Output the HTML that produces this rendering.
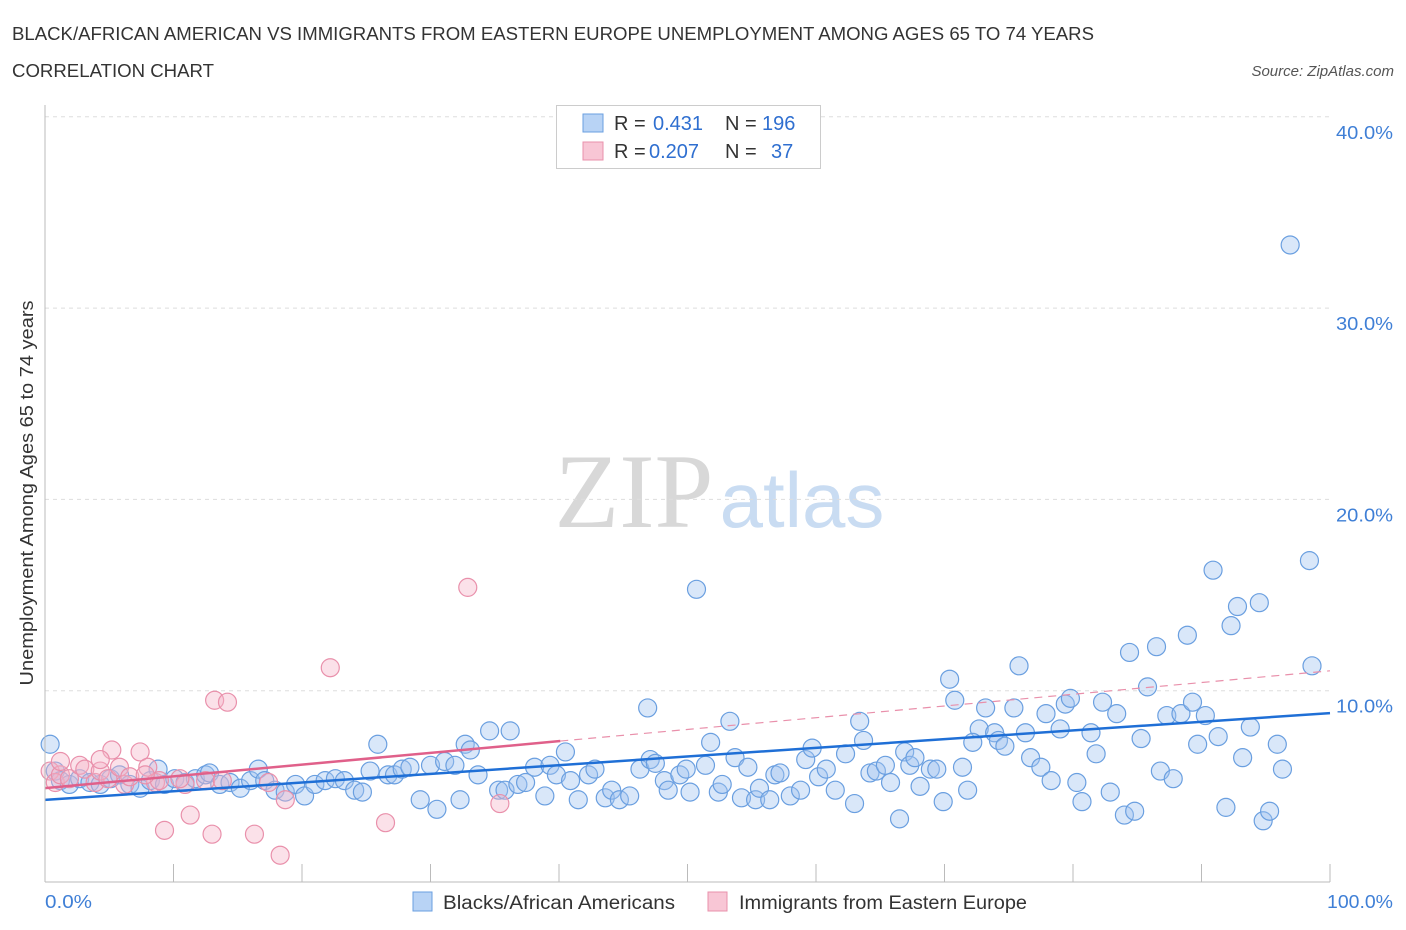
<!DOCTYPE html>
<html><head><meta charset="utf-8"><style>
body{margin:0;background:#fff;font-family:"Liberation Sans",sans-serif;}
#wrap{position:relative;width:1406px;height:930px;overflow:hidden}
</style></head><body>
<div id="wrap">
<svg id="chart" width="1406" height="930">
<text x="12" y="40" font-size="18" fill="#333" textLength="1082" lengthAdjust="spacingAndGlyphs">BLACK/AFRICAN AMERICAN VS IMMIGRANTS FROM EASTERN EUROPE UNEMPLOYMENT AMONG AGES 65 TO 74 YEARS</text>
<text x="12" y="77" font-size="18" fill="#333" textLength="202" lengthAdjust="spacingAndGlyphs">CORRELATION CHART</text>
<text x="1394" y="76" font-size="15" fill="#555" font-style="italic" text-anchor="end">Source: ZipAtlas.com</text>
<text x="634" y="527" font-size="106" fill="#d8d8d8" font-family="Liberation Serif, serif" text-anchor="middle">ZIP</text>
<text x="802" y="527" font-size="78" fill="#c9dcf2" text-anchor="middle">atlas</text>
<g id="grid"></g><g id="pts"></g><g id="lines"></g>
<line x1="45" y1="105" x2="45" y2="882" stroke="#bbb"/>
<line x1="45" y1="882" x2="1330" y2="882" stroke="#bbb"/>
<text x="45" y="908" font-size="18" fill="#3f7fd6" textLength="47" lengthAdjust="spacingAndGlyphs">0.0%</text>
<text x="1327" y="908" font-size="18" fill="#3f7fd6" textLength="66" lengthAdjust="spacingAndGlyphs">100.0%</text>
<text transform="translate(33,493) rotate(-90)" font-size="18" fill="#333" text-anchor="middle" textLength="385" lengthAdjust="spacingAndGlyphs">Unemployment Among Ages 65 to 74 years</text>
<g>
<rect x="556.5" y="105.5" width="264" height="63" fill="#fff" stroke="#ccc"/>
<rect x="583" y="114" width="20" height="18" fill="#b8d3f5" stroke="#6a9fe0"/>
<rect x="583" y="142" width="20" height="18" fill="#f8c6d5" stroke="#e990ab"/>
<text y="130" font-size="20" fill="#333"><tspan x="614">R =</tspan><tspan x="653" fill="#2f6fd0">0.431</tspan><tspan x="725">N =</tspan><tspan x="762" fill="#2f6fd0">196</tspan></text>
<text y="158" font-size="20" fill="#333"><tspan x="614">R =</tspan><tspan x="649" fill="#2f6fd0">0.207</tspan><tspan x="725">N =</tspan><tspan x="771" fill="#2f6fd0">37</tspan></text>
</g>
<g>
<rect x="413" y="892" width="19" height="19" fill="#b8d3f5" stroke="#6a9fe0"/>
<text x="443" y="909" font-size="19" fill="#333" textLength="232" lengthAdjust="spacingAndGlyphs">Blacks/African Americans</text>
<rect x="708" y="892" width="19" height="19" fill="#f8c6d5" stroke="#e990ab"/>
<text x="739" y="909" font-size="19" fill="#333" textLength="288" lengthAdjust="spacingAndGlyphs">Immigrants from Eastern Europe</text>
</g>
</svg>
</div>
<script>
const yTicks=[10,20,30,40];
const yTickLabels=["10.0%","20.0%","30.0%","40.0%"];
const xTicks=[10,20,30,40,50,60,70,80,90,100];
const blueX=[0.4,0.8,1.2,1.9,2.7,3.5,4.3,5.1,5.8,6.6,7.4,8.2,8.8,9.3,10.1,10.9,11.7,12.5,12.8,13.6,14.4,15.2,16.0,16.6,17.1,17.9,18.7,19.5,20.2,21.0,21.8,22.6,23.3,24.1,24.7,25.3,25.9,26.7,27.2,27.8,28.4,29.2,30.0,30.5,31.1,31.9,32.3,32.7,33.1,33.7,34.6,35.3,35.8,36.2,36.8,37.4,38.1,38.9,39.3,39.8,40.5,40.9,41.5,42.3,42.8,43.6,44.1,44.7,45.5,46.3,46.9,47.1,47.5,48.2,48.5,49.4,49.9,50.2,51.4,51.8,52.4,52.7,53.3,53.7,54.2,54.7,55.3,55.6,56.4,56.8,57.2,58.0,58.8,59.2,59.7,60.2,60.8,61.5,62.3,63.0,63.4,63.7,64.2,64.7,65.4,65.8,66.5,66.9,67.3,67.7,68.1,68.9,50.7,
69.4,69.9,71.4,71.8,70.4,70.8,72.7,72.2,73.2,73.9,74.2,74.7,75.4,75.8,76.3,76.7,77.5,77.9,78.3,79.0,79.4,79.8,80.3,80.7,81.4,81.8,82.3,82.9,83.4,84.0,84.8,84.4,85.3,85.8,86.5,86.8,87.3,87.8,88.4,88.9,89.3,89.7,90.3,90.9,91.3,91.9,92.3,92.8,93.2,93.8,94.5,94.8,95.3,95.9,96.3,96.9,98.4,98.6];
const blueY=[7.2,5.8,5.3,5.1,5.4,5.2,5.1,5.4,5.6,5.1,4.9,5.3,5.9,5.1,5.4,5.2,5.4,5.6,5.7,5.1,5.2,4.9,5.3,5.9,5.3,4.8,4.7,5.1,4.5,5.1,5.3,5.4,5.3,4.8,4.7,5.8,7.2,5.6,5.6,5.9,6.0,4.3,6.1,3.8,6.3,6.1,4.3,7.2,6.9,5.6,7.9,4.8,4.8,7.9,5.1,5.2,6.0,4.5,6.1,5.6,6.8,5.3,4.3,5.6,5.9,4.4,4.8,4.3,4.5,5.9,9.1,6.4,6.2,5.3,4.8,5.6,5.9,4.7,6.1,7.3,4.7,5.1,8.4,6.5,4.4,6.0,4.3,4.9,4.3,5.6,5.7,4.5,4.8,6.4,7.0,5.5,5.9,4.8,6.7,4.1,8.4,7.4,5.7,5.8,6.1,5.2,3.3,6.8,6.1,6.5,5.0,5.9,15.3,
5.9,4.2,6.0,4.8,10.6,9.5,8.0,7.3,9.1,7.8,7.4,7.1,9.1,11.3,7.8,6.5,6.0,8.8,5.3,8.0,9.3,9.6,5.2,4.2,7.8,6.7,9.4,4.7,8.8,3.5,3.7,12.0,7.5,10.2,12.3,5.8,8.7,5.4,8.8,12.9,9.4,7.2,8.7,16.3,7.6,3.9,13.4,14.4,6.5,8.1,14.6,3.2,3.7,7.2,5.9,33.3,16.8,11.3];
const pinkX=[0.4,0.8,1.2,1.9,2.7,3.1,3.9,4.3,4.9,5.2,5.8,6.2,6.6,7.4,8.0,8.6,8.9,9.3,10.9,11.3,12.5,13.0,13.2,13.8,14.2,16.3,17.4,18.3,18.7,22.2,26.5,32.9,35.4,7.8,1.2,10.5,4.3];
const pinkY=[5.8,5.2,5.6,5.4,6.1,5.9,5.2,5.8,5.4,6.9,6.0,5.1,5.5,6.8,6.0,5.2,5.3,2.7,5.1,3.5,5.3,2.5,9.5,5.3,9.4,2.5,5.2,1.4,4.3,11.2,3.1,15.4,4.1,5.6,6.3,5.4,6.4];
const blueTrend=[4.29,8.83];
const pinkTrend=[4.91,11.04];
const pinkSolidEnd=40.1;
const NS='http://www.w3.org/2000/svg';
const xs=v=>45+v*12.85;
const ys=v=>882-v*19.13;
function mk(t,a,p){const e=document.createElementNS(NS,t);for(const k in a)e.setAttribute(k,a[k]);p.appendChild(e);return e;}
const grid=document.getElementById('grid');
yTicks.forEach((t,i)=>{
 const l=mk('line',{x1:45,x2:1330,y1:ys(t),y2:ys(t),stroke:'#ddd','stroke-dasharray':'4,4'},grid);
 
 
 const tx=mk('text',{x:1336,y:ys(t)+22,'font-size':18,fill:'#3f7fd6',textLength:57,lengthAdjust:'spacingAndGlyphs'},grid);
 tx.textContent=yTickLabels[i];
 
 
});
xTicks.forEach(t=>{
 const l=mk('line',{x1:xs(t),x2:xs(t),y1:864,y2:882,stroke:'#bbb'},grid);
 
 
});
const pts=document.getElementById('pts');
blueX.forEach((x,i)=>{
 const c=mk('circle',{cx:xs(x),cy:ys(blueY[i]),r:9,fill:'rgba(160,196,240,0.4)',stroke:'#6a9fe0','stroke-width':1.2},pts);
 
 
});
pinkX.forEach((x,i)=>{
 const c=mk('circle',{cx:xs(x),cy:ys(pinkY[i]),r:9,fill:'rgba(245,180,200,0.4)',stroke:'#e990ab','stroke-width':1.2},pts);
 
 
});
const lines=document.getElementById('lines');
const py=x=>pinkTrend[0]+(pinkTrend[1]-pinkTrend[0])*x/100;
const d1=mk('line',{x1:xs(pinkSolidEnd),y1:ys(py(pinkSolidEnd)),x2:xs(100),y2:ys(pinkTrend[1]),stroke:'#e990ab','stroke-width':1.2,'stroke-dasharray':'8,6'},lines);


const p1=mk('line',{x1:xs(0),y1:ys(pinkTrend[0]),x2:xs(pinkSolidEnd),y2:ys(py(pinkSolidEnd)),stroke:'#e0608a','stroke-width':2.5},lines);


const b1=mk('line',{x1:xs(0),y1:ys(blueTrend[0]),x2:xs(100),y2:ys(blueTrend[1]),stroke:'#1f6fd6','stroke-width':2.5},lines);


</script>
</body></html>
